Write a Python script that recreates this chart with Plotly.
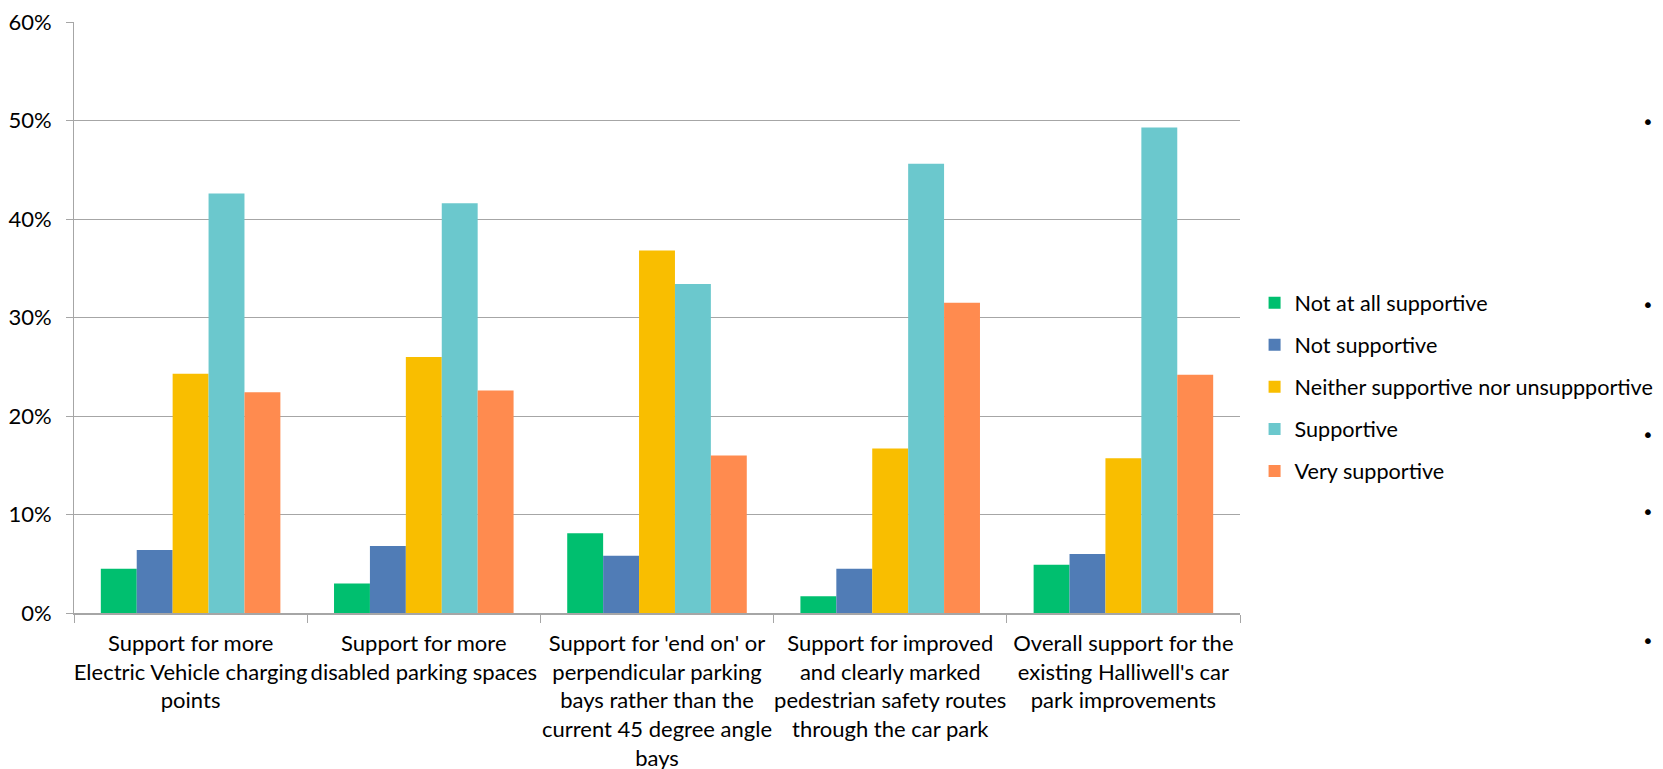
import plotly.graph_objects as go

categories = [
    "Support for more<br>Electric Vehicle charging<br>points",
    "Support for more<br>disabled parking spaces",
    "Support for 'end on' or<br>perpendicular parking<br>bays rather than the<br>current 45 degree angle<br>bays",
    "Support for improved<br>and clearly marked<br>pedestrian safety routes<br>through the car park",
    "Overall support for the<br>existing Halliwell's car<br>park improvements",
]
series_names = [
    "Not at all supportive",
    "Not supportive",
    "Neither supportive nor unsuppportive",
    "Supportive",
    "Very supportive",
]
not_at_all = [0.045, 0.030, 0.081, 0.017, 0.049]
not_supportive = [0.064, 0.068, 0.058, 0.045, 0.060]
neither = [0.243, 0.260, 0.368, 0.167, 0.157]
supportive = [0.426, 0.416, 0.334, 0.456, 0.493]
very = [0.224, 0.226, 0.160, 0.315, 0.242]
series_values = [not_at_all, not_supportive, neither, supportive, very]
colors = ["#00BF6F", "#507CB6", "#F9BE00", "#6BC8CD", "#FF8B4F"]
bullet_y = [0.8316, 0.5208, 0.3004, 0.1714, -0.0475]

font = "Lato, 'Open Sans', sans-serif"

fig = go.Figure()
for name, vals, col in zip(series_names, series_values, colors):
    fig.add_trace(go.Bar(
        name=name, x=categories, y=vals, marker_color=col,
        marker_line_width=0, legendgroup=name,
    ))

fig.update_layout(
    width=1663, height=769,
    margin=dict(l=66, r=426, t=14, b=163.5),
    paper_bgcolor="white", plot_bgcolor="white",
    barmode="group", bargap=0.23, bargroupgap=0,
    font=dict(family=font, size=22, color="black"),
    legend=dict(
        x=1.0125, xanchor="left", y=0.3822, yanchor="middle",
        font=dict(family=font, size=21.6, color="black"),
        traceorder="grouped", tracegroupgap=11,
        itemwidth=30,
    ),
    showlegend=True,
)
fig.update_yaxes(
    range=[0, 0.6], dtick=0.1, tickformat=".0%",
    showgrid=True, gridcolor="#A6A6A6", gridwidth=1,
    showline=True, linecolor="#A6A6A6", linewidth=1,
    ticks="outside", ticklen=7, tickcolor="#A6A6A6",
    ticklabelstandoff=10, zeroline=False, automargin=False,
    ticklabeloverflow="allow",
    tickfont=dict(family=font, size=22, color="black"),
)
fig.update_xaxes(
    showline=True, linecolor="#A6A6A6", linewidth=1.5,
    ticks="outside", tickson="boundaries", ticklen=8, tickcolor="#A6A6A6",
    tickangle=0, ticklabelstandoff=10, automargin=False,
    ticklabeloverflow="allow",
    tickfont=dict(family=font, size=22, color="black"),
)
for yv in bullet_y:
    fig.add_annotation(
        text="•", x=1.3499, y=yv, xref="paper", yref="paper",
        showarrow=False, font=dict(family="DejaVu Sans", size=20, color="black"),
        xanchor="center", yanchor="middle",
    )

fig.write_html("out.html")
